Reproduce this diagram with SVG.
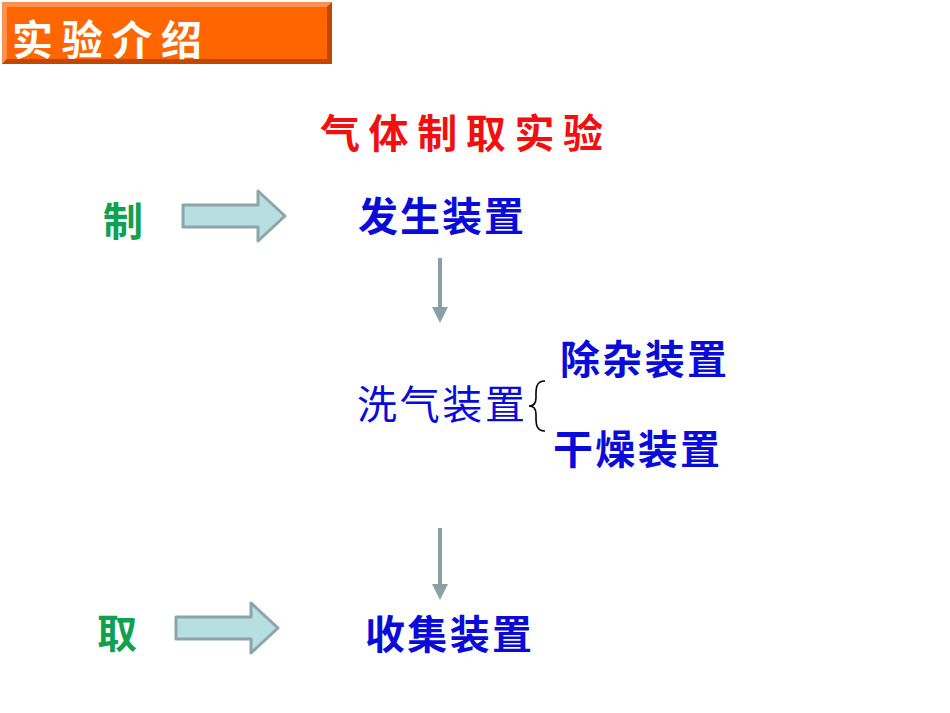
<svg xmlns="http://www.w3.org/2000/svg" width="950" height="713" viewBox="0 0 950 713">
<style>
.b{font-family:"Noto Sans CJK SC",sans-serif;font-weight:bold;font-size:40px}
.blue{fill:#0B0BD9}
.ar{fill:#B7DEE0;stroke:#8BA5A8;stroke-width:3;stroke-linejoin:round}
.vl{stroke:#8BA0A4;stroke-width:4}
</style>
<defs><marker id="m" markerWidth="4" markerHeight="4" refX="2" refY="2" orient="auto"><path d="M0,0L4,2L0,4z" fill="#8BA0A4"/></marker></defs>
<g id="header">
<rect x="2" y="2" width="330" height="62" fill="#FF6600"/>
<path d="M2,2H332L327,7H7V59L2,64z" fill="#FF9050"/>
<path d="M332,2V64H2L7,59H327V7z" fill="#C04800"/>
<text x="12" y="55" font-family="Noto Sans CJK SC,serif" font-weight="bold" font-size="41" fill="#fff" textLength="190">实验介绍</text>
</g>
<g id="title"><text class="b" x="320" y="148" fill="#F01010" font-size="44" textLength="283">气体制取实验</text></g>
<g id="zhi"><text class="b" x="103" y="236" fill="#0FA050" font-size="44">制</text></g>
<g id="qu"><text class="b" x="97" y="648" fill="#0FA050" font-size="44">取</text></g>
<g id="fasheng"><text class="b blue" x="358" y="231" textLength="166">发生装置</text></g>
<g id="xiqi"><text class="blue" x="357" y="419" font-family="Noto Sans CJK SC,sans-serif" font-size="40" textLength="168">洗气装置</text>
<path d="M545,381C535,381 536,390 536,398C536,404 533,406 529,406C533,406 536,408 536,414C536,422 535,431 545,431" fill="none" stroke="#000" stroke-width="1.6"/></g>
<g id="chuza"><text class="b blue" x="560" y="374" textLength="167">除杂装置</text></g>
<g id="ganzao"><text class="b blue" x="553" y="464" textLength="167">干燥装置</text></g>
<g id="shouji"><text class="b blue" x="365" y="649" textLength="167">收集装置</text></g>
<g id="connectors">
<path class="ar" d="M183,205H258V191L285,216L258,241V227H183z"/>
<path class="ar" d="M176,617H251V603L278,628L251,653V639H176z"/>
<line class="vl" x1="440" y1="258" x2="440" y2="315" marker-end="url(#m)"/>
<line class="vl" x1="440" y1="528" x2="440" y2="592" marker-end="url(#m)"/>
</g>
</svg>
